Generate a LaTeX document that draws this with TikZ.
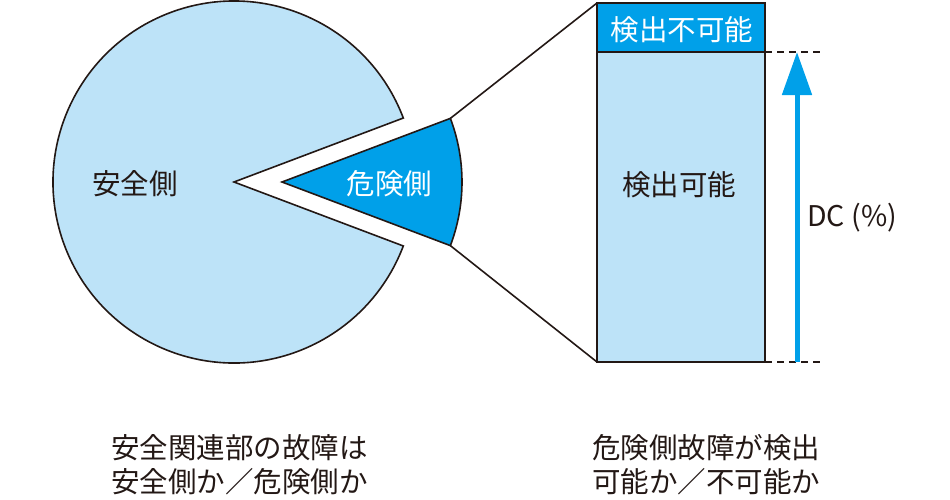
\documentclass[tikz,border=0pt]{standalone}
\usepackage{fontspec}
\setmainfont{Noto Sans CJK JP}
\usetikzlibrary{arrows.meta}
\definecolor{lightblue}{HTML}{BDE3F8}
\definecolor{darkblue}{HTML}{00A0E9}
\definecolor{inkblack}{HTML}{231815}
\begin{document}
\begin{tikzpicture}[x=1pt,y=-1pt,
  outline/.style={draw=inkblack,line width=1.6pt,line join=miter},
  lbl/.style={inner sep=0pt,font=\fontsize{28.5}{34}\selectfont,text=inkblack},
  guide/.style={draw=inkblack,line width=1.5pt,dash pattern=on 7pt off 5pt}]
\useasboundingbox (0,0) rectangle (950,499);
% big pie (safe side)
\coordinate (bigapex) at (234,182);
\draw[outline,fill=lightblue] (bigapex) -- ++(-20.7:181) arc[start angle=-20.7,end angle=-339.3,radius=181] -- cycle;
% small wedge (dangerous side)
\coordinate (smallapex) at (282,182);
\path (smallapex) ++(-20.7:180) coordinate (wtop);
\path (smallapex) ++(20.7:180) coordinate (wbot);
\draw[outline,fill=darkblue] (smallapex) -- (wtop) arc[start angle=-20.7,end angle=20.7,radius=180] -- cycle;
% bar
\coordinate (btl) at (597,3);
\coordinate (bml) at (597,52);
\coordinate (bmr) at (765,52);
\coordinate (bbl) at (597,362);
\coordinate (bbr) at (765,362);
\draw[outline,fill=lightblue] (bml) rectangle (bbr);
\draw[outline,fill=darkblue] (btl) rectangle (bmr);
% connectors
\draw[outline] (wtop) -- (btl);
\draw[outline] (wbot) -- (bbl);
% dashed guides
\coordinate (gtop) at (822,52);
\coordinate (gbot) at (822,362);
\draw[guide] (bmr) -- (gtop);
\draw[guide] (bbr) -- (gbot);
% arrow
\coordinate (abot) at (797,362);
\coordinate (atop) at (797,52);
\draw[darkblue,line width=5pt,-{Triangle[width=29pt,length=43pt]}] (abot) -- (atop);
% labels
\node[lbl] (safe) at (135,184) {安全側};
\node[lbl,text=white] (danger) at (389.5,184) {危険側};
\node[lbl,text=white] (undet) at (682,30) {検出不可能};
\node[lbl] (det) at (679,185) {検出可能};
\node[lbl,anchor=west] (dc) at (807,218) {DC (\%)};
\node[lbl,anchor=west,align=left] (cap1) at (111,465) {安全関連部の故障は\\安全側か／危険側か};
\node[lbl,anchor=west,align=left] (cap2) at (592,465) {危険側故障が検出\\可能か／不可能か};
\end{tikzpicture}
\end{document}
